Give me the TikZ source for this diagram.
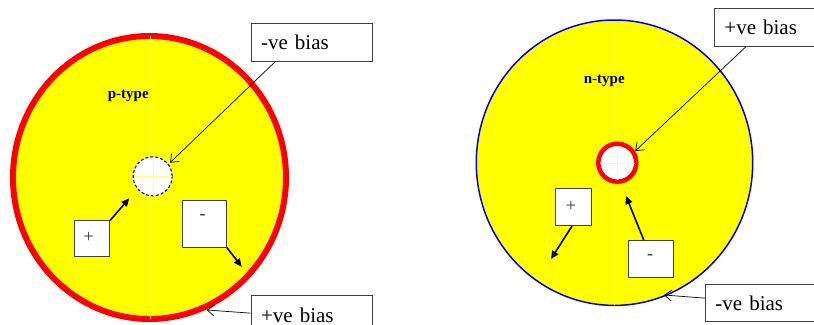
\documentclass[tikz,border=0pt]{standalone}
\usepackage{fontspec}
\setmainfont{Liberation Serif}
\usetikzlibrary{arrows.meta}
\definecolor{wafer}{RGB}{255,255,0}
\definecolor{rimred}{RGB}{255,0,0}
\definecolor{rimblue}{RGB}{0,0,235}
\tikzset{
  biasbox/.style={draw=black!75, line width=0.9pt, fill=white, anchor=north west,
    minimum height=37.4pt, text width=101pt, inner xsep=10pt, inner ysep=0pt, align=left,
    font=\fontsize{21}{24}\selectfont},
  signbox/.style={draw=black!75, line width=0.9pt, fill=white, anchor=north west, inner sep=0pt},
  leader/.style={draw=black, line width=0.7pt, -{Straight Barb[length=7pt,width=11pt,line width=0.7pt]}},
  drift/.style={draw=black, line width=1.6pt, -{Triangle[length=8pt,width=7pt]}},
  typelabel/.style={font=\bfseries\fontsize{15}{17}\selectfont},
  signtext/.style={font=\fontsize{18}{20}\selectfont, text=black!80},
  seam/.style={draw=wafer!88!white, line width=0.5pt},
  cross/.style={draw=wafer!45!white, line width=0.4pt},
}
\begin{document}
\begin{tikzpicture}[x=1pt,y=-1pt]
\useasboundingbox (0,0) rectangle (814,324);
\clip (0,0) rectangle (814,324);

% ---- left wafer (p-type)
\draw[rimred, line width=6pt, fill=wafer] (149.5,177.5) ellipse [x radius=136.5, y radius=141.5];
\draw[seam] (150.7,36) -- (150.7,319);
\node[circle, draw=rimblue, dash pattern=on 3pt off 2pt, line width=1.1pt, fill=white,
      minimum size=39pt, inner sep=0pt] (holeL) at (152.7,176.3) {};
\draw[cross] (133.5,176.3) -- (171.9,176.3) (152.7,157) -- (152.7,195.6);
\node[typelabel] (ptype) at (128.3,96) {p-type};

\node[biasbox] (negL) at (250.7,23.3) {-ve bias};
\node[biasbox, minimum height=40pt] (posL) at (250.7,294.7) {+ve bias};
\coordinate (negLtip) at (170,162.7);
\coordinate (posLtip) at (206.7,310);
\draw[leader] (negL.south west) ++(24.6,0) -- (negLtip);
\draw[leader] (posL.west) ++(0,-2) -- (posLtip);

\node[signbox, minimum width=35pt, minimum height=35.7pt] (plusL) at (74.3,220.3) {};
\node[signtext] at (88.7,237.7) {+};
\node[signbox, minimum width=44.3pt, minimum height=46.7pt] (minusL) at (181.7,200) {};
\node[signtext] at (202.7,217) {-};
\coordinate (plusLtip) at (129.3,198.3);
\coordinate (minusLtip) at (241.7,266.7);
\draw[drift] (plusL.north east) -- (plusLtip);
\draw[drift] (minusL.south east) -- (minusLtip);

% ---- right wafer (n-type)
\draw[rimblue, line width=1.5pt, fill=wafer] (614.5,162.7) ellipse [x radius=138.2, y radius=142.7];
\draw[seam] (614.3,21) -- (614.3,305);
\node[circle, draw=rimred, line width=4.5pt, fill=white, minimum size=38pt, inner sep=0pt] (holeR) at (617.3,162.7) {};
\draw[cross] (600,162.7) -- (634.6,162.7) (617.3,145.5) -- (617.3,180);
\node[typelabel] (ntype) at (604.3,80.7) {n-type};

\node[biasbox] (posR) at (714,8.3) {+ve bias};
\node[biasbox] (negR) at (705,284) {-ve bias};
\coordinate (posRtip) at (635.3,151);
\coordinate (negRtip) at (664,295);
\draw[leader] (posR.south west) ++(32,0) -- (posRtip);
\draw[leader] (negR.west) ++(0,-5) -- (negRtip);

\node[signbox, minimum width=35.4pt, minimum height=37.6pt] (plusR) at (555.3,187.7) {};
\node[signtext] at (571,206.7) {+};
\node[signbox, minimum width=45pt, minimum height=36.7pt] (minusR) at (628.3,240) {};
\node[signtext] at (650,257) {-};
\coordinate (plusRtip) at (551,259);
\coordinate (minusRtip) at (626,196);
\draw[drift] (plusR.south) ++(-1.5,0) -- (plusRtip);
\draw[drift] (minusR.north) ++(-7.5,0) -- (minusRtip);
\end{tikzpicture}
\end{document}
